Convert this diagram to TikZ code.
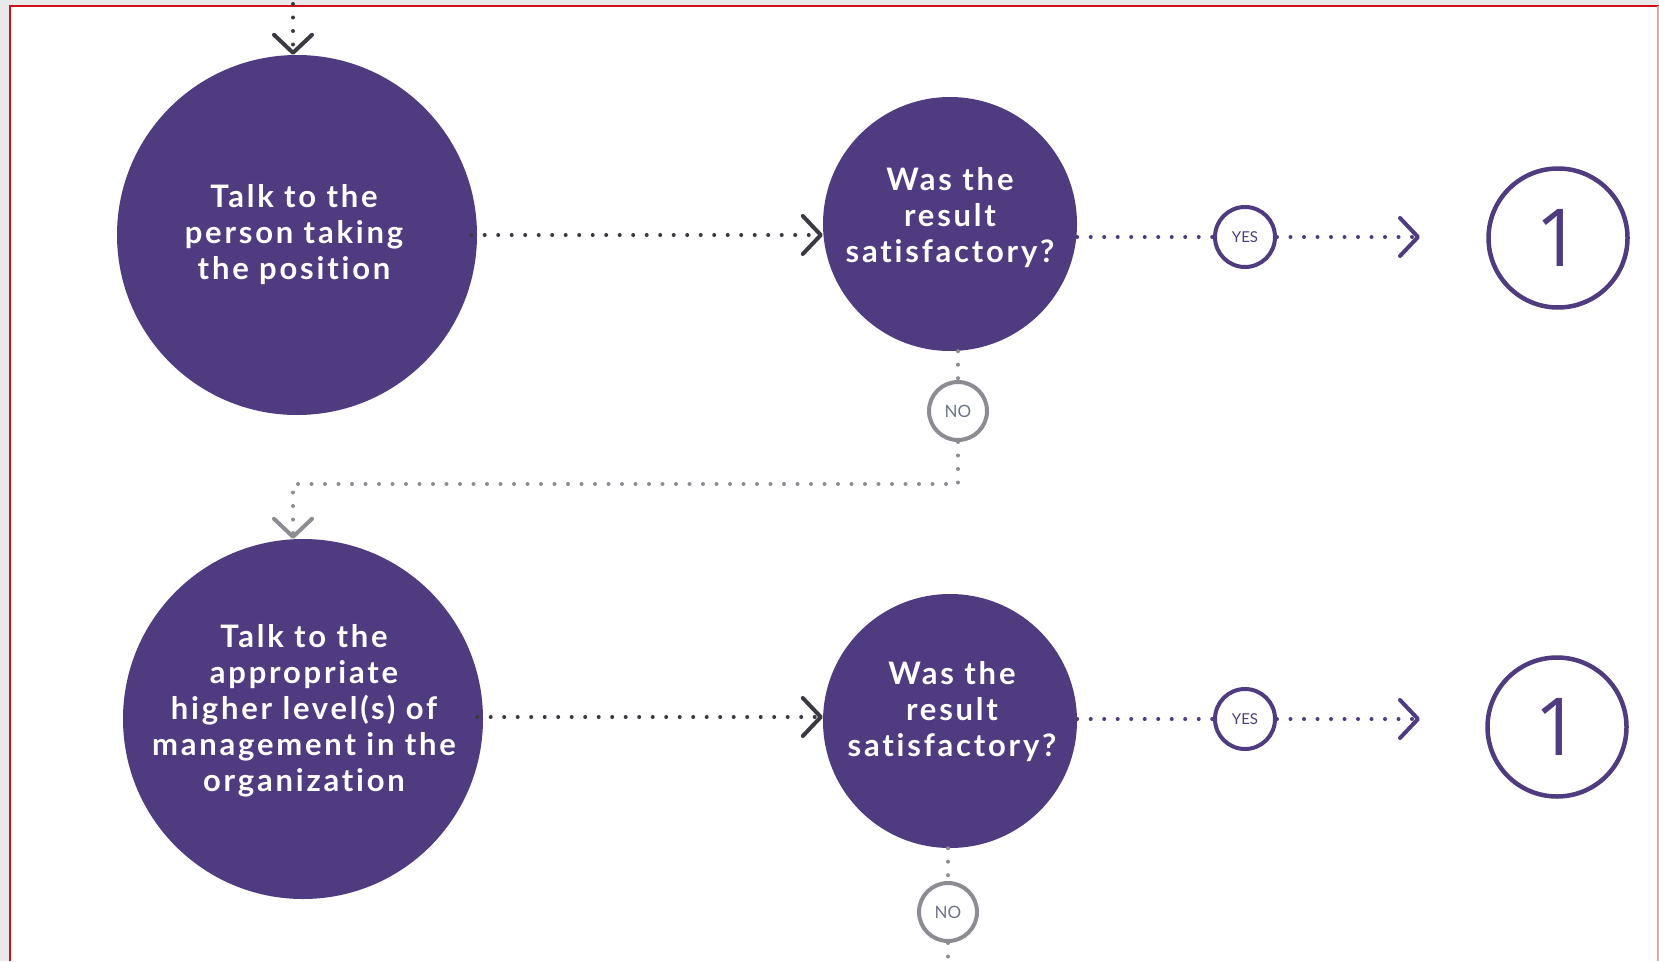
\documentclass[tikz,border=0pt]{standalone}
\usepackage{fontspec}
\setmainfont{Lato}
\newfontfamily\labfont[LetterSpace=9, Ligatures={NoCommon,NoRare}]{Lato}
\newfontfamily\numfont{Open Sans}
\usetikzlibrary{arrows.meta}
\definecolor{purp}{HTML}{4F3B80}
\definecolor{dotdark}{HTML}{3A3A42}
\definecolor{dotgray}{HTML}{8C8C92}
\definecolor{frame}{HTML}{D0101A}
\definecolor{framel}{HTML}{F0A0A0}
\definecolor{outer}{HTML}{E9E9E9}
\definecolor{notext}{HTML}{6E7488}
\tikzset{
  bigc/.style={circle, fill=purp, draw=none, minimum size=360pt, inner sep=0pt},
  qc/.style={circle, fill=purp, draw=none, minimum size=254pt, inner sep=0pt},
  ctext/.style={text=white, align=center, font=\labfont\bfseries\fontsize{31}{36}\selectfont, inner sep=0pt},
  yesc/.style={circle, draw=purp, line width=4pt, minimum size=60pt, inner sep=0pt, text=purp, font=\fontsize{15}{18}\selectfont},
  noc/.style={circle, draw=dotgray, line width=4pt, minimum size=58pt, inner sep=0pt, text=notext, font=\fontsize{17}{20}\selectfont},
  onec/.style={circle, draw=purp, line width=4.5pt, minimum size=139pt, inner sep=0pt, text=purp, font=\numfont\fontsize{80}{80}\selectfont},
  dots/.style={line width=4pt, line cap=round, dash pattern=on 0pt off 13.5pt},
  chev/.style={-{Straight Barb[length=18pt, width=38pt, line width=4pt, round]}},
}
\begin{document}
\begin{tikzpicture}[x=1pt, y=-1pt]
\useasboundingbox (0,0) rectangle (1659,961);
% frame
\fill[outer] (0,0) rectangle (1659,961);
\fill[white] (10,6) rectangle (1659,961);
\draw[frame, line width=2pt] (10,961) -- (10,6) -- (1659,6);
\draw[framel, line width=1.5pt] (1658,6) -- (1658,961);

% nodes
\node[bigc] (b1) at (297,235) {};
\node[ctext] (b1t) at (294,235) {Talk to the\\person taking\\the position};
\node[qc] (q1) at (950,224) {};
\node[ctext] (q1t) at (950,218) {Was the\\result\\satisfactory?};
\node[yesc] (yes1) at (1245,237) {YES};
\coordinate (tip1) at (1420,237);
\node[onec] (one1) at (1558,238) {1};
\node[noc] (no1) at (958,411) {NO};

\node[bigc] (b2) at (303,719) {};
\node[ctext] (b2t) at (304,711) {Talk to the\\appropriate\\higher level(s) of\\management in the\\organization};
\node[qc] (q2) at (950,721) {};
\node[ctext] (q2t) at (952,712) {Was the\\result\\satisfactory?};
\node[yesc] (yes2) at (1245,719) {YES};
\coordinate (tip2) at (1420,719);
\node[onec] (one2) at (1557,727) {1};
\node[noc] (no2) at (948,912) {NO};

% incoming top arrow
\coordinate (top) at (293,4);
\draw[dots, dotdark, chev] (top) -- (top |- b1.north);

% row 1
\draw[dots, dotdark, chev] ([xshift=-6pt]b1.east) -- (q1.west |- 0,235);
\draw[dots, purp] (q1.east |- yes1) -- (yes1.west);
\draw[dots, purp, chev] (yes1.east) -- (tip1);
\draw[dots, dotgray] (q1.south -| no1) -- (no1.north);
\coordinate (turn1) at (958,484);
\coordinate (turn2) at (293,484);
\draw[dots, dotgray, chev] (no1.south) -- (turn1) -- (turn2) -- (turn2 |- b2.north);

% row 2
\draw[dots, dotdark, chev] ([xshift=-6pt]b2.east |- 0,717) -- (q2.west |- 0,717);
\draw[dots, purp] (q2.east |- yes2) -- (yes2.west);
\draw[dots, purp, chev] (yes2.east) -- (tip2);
\draw[dots, dotgray] (q2.south -| no2) -- (no2.north);
\coordinate (bot) at (no2 |- 0,961);
\draw[dots, dotgray] (no2.south) -- (bot);
\end{tikzpicture}
\end{document}
